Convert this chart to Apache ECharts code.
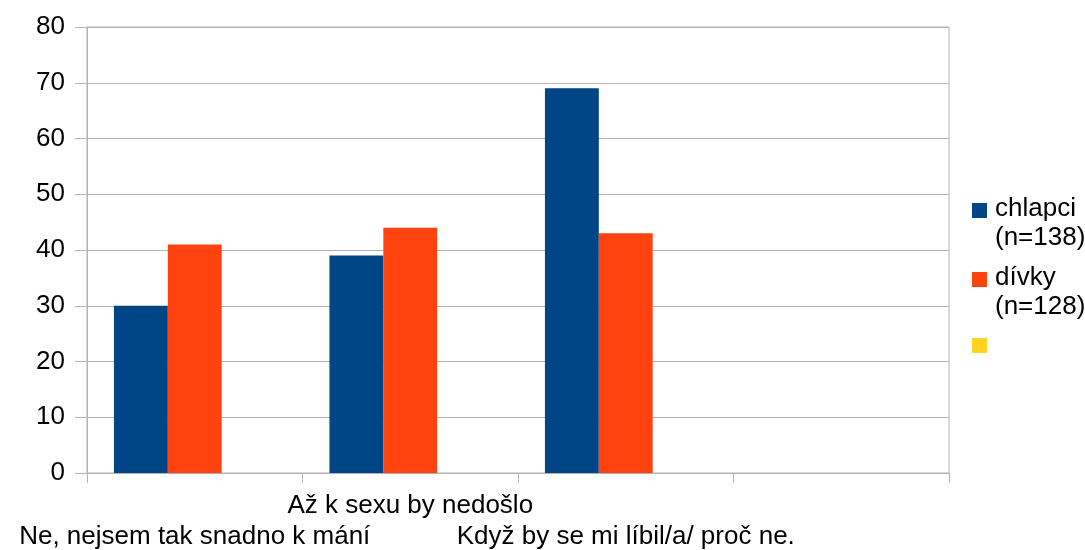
<!DOCTYPE html>
<html>
<head>
<meta charset="utf-8">
<script src="https://cdn.jsdelivr.net/npm/echarts@6/dist/echarts.min.js"></script>
<style>html,body{margin:0;padding:0;background:#fff;}#c{width:1085px;height:550px;}</style>
</head>
<body>
<div id="c"></div>
<script>
var categories = ['Ne, nejsem tak snadno k mání', 'Až k sexu by nedošlo', 'Když by se mi líbil/a/ proč ne.', ''];
var chlapci = [30, 39, 69, null];
var divky = [41, 44, 43, null];
var third = [null, null, null, null];
var seriesNames = ['chlapci\n(n=138)', 'dívky\n(n=128)', ''];
var colors = ['#004586', '#ff420e', '#ffd320'];
var yTicks = [0, 10, 20, 30, 40, 50, 60, 70, 80];

var FONT = '"Liberation Sans", Arial, sans-serif';
var chart = echarts.init(document.getElementById('c'), null, {renderer: 'canvas'});

var legendTops = [203, 272, 338];
var graphics = [];
seriesNames.forEach(function (n, i) {
  graphics.push({type: 'rect', left: 972, top: legendTops[i], shape: {width: 15, height: 15}, style: {fill: colors[i]}});
  if (n) {
    graphics.push({type: 'text', left: 995, top: legendTops[i] - 9,
      style: {text: n, font: '26px ' + FONT, fill: '#000', lineHeight: 29}});
  }
});

chart.setOption({
  animation: false,
  backgroundColor: '#fff',
  color: colors,
  textStyle: {fontFamily: FONT},
  grid: {left: 87, right: 136, top: 27, bottom: 77, show: true, borderColor: '#b3b3b3', borderWidth: 1,
    containLabel: false, outerBoundsMode: 'none'},
  xAxis: {
    type: 'category',
    data: categories,
    boundaryGap: true,
    axisLine: {lineStyle: {color: '#b3b3b3'}},
    axisTick: {show: true, length: 10, lineStyle: {color: '#b3b3b3'}},
    axisLabel: {
      interval: 0, hideOverlap: false, color: '#000', fontSize: 26, fontFamily: FONT, lineHeight: 31, margin: 17,
      formatter: function (v, i) { return i % 2 === 0 ? '\n' + v : v; }
    },
    splitLine: {show: false}
  },
  yAxis: {
    type: 'value',
    min: 0, max: 80, interval: 10,
    axisLine: {show: true, lineStyle: {color: '#b3b3b3'}},
    axisTick: {show: true, length: 12, lineStyle: {color: '#b3b3b3'}},
    axisLabel: {color: '#000', fontSize: 26, fontFamily: FONT, margin: 22,
      formatter: function (v) { return yTicks.indexOf(v) >= 0 ? String(v) : ''; }},
    splitLine: {lineStyle: {color: '#b3b3b3'}}
  },
  series: [
    {type: 'bar', name: seriesNames[0], data: chlapci, barGap: '0%', barCategoryGap: '25%', itemStyle: {color: colors[0]}},
    {type: 'bar', name: seriesNames[1], data: divky, itemStyle: {color: colors[1]}},
    {type: 'bar', name: seriesNames[2], data: third, itemStyle: {color: colors[2]}}
  ],
  graphic: graphics
});
</script>
</body>
</html>
